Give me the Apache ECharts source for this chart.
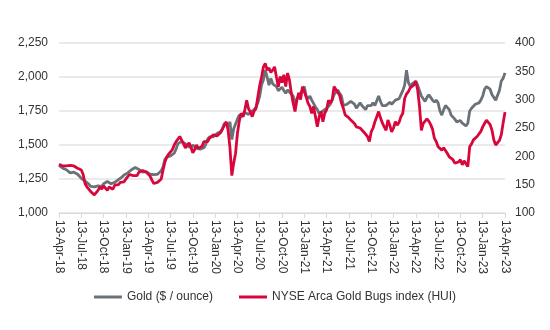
<!DOCTYPE html>
<html>
<head>
<meta charset="utf-8">
<script src="https://cdn.jsdelivr.net/npm/echarts@6/dist/echarts.min.js"></script>
<style>html,body{margin:0;padding:0;background:#fff}#c{width:550px;height:330px}</style>
</head>
<body>
<div id="c"></div>
<script>
// Tick labels for the x axis (every 3 months, 13-Apr-18 .. 13-Apr-23)
const tickLabels = ['13-Apr-18','13-Jul-18','13-Oct-18','13-Jan-19','13-Apr-19','13-Jul-19','13-Oct-19','13-Jan-20','13-Apr-20','13-Jul-20','13-Oct-20','13-Jan-21','13-Apr-21','13-Jul-21','13-Oct-21','13-Jan-22','13-Apr-22','13-Jul-22','13-Oct-22','13-Jan-23','13-Apr-23'];
// Sampling step of the series, in months (roughly weekly)
const stepMonths = 0.25;
// Gold ($ / ounce), left axis
const goldValues = [
1350,1342,1330,1322,1318,
1305,1295,1298,1300, 1296,1285,1270,1255, 1245,1235,1225,1212, 1195,1185,1192,1198,
1200,1188,1195,1215, 1228,1232,1222,1215, 1210,1225,1238,1245, 1250,1265,1280,1290,
1295,1308,1318,1330, 1335,1322,1320,1310, 1300,1310,1305,1295, 1285,1275,1282,1290,
1285,1298,1310,1340, 1395,1410,1400,1420, 1425,1440,1470,1510, 1505,1525,1535,1510,
1495,1495,1480,1500, 1510,1475,1465,1470, 1475,1480,1505,1545, 1560,1570,1560,1570,
1585,1590,1600,1620, 1660,1665,1640,1670, 1540,1620,1610,1690, 1720,1725,1710,1740,
1730,1725,1740,1735, 1760,1780,1810,1860, 1940,1980,2050,2000, 1940,1990,1950,1955,
1930,1900,1910,1925, 1900,1880,1905,1890, 1880,1860,1800,1840, 1860,1880,1890,1930,
1860,1840,1860,1830, 1820,1780,1760,1730, 1740,1750,1745,1770, 1780,1800,1830,1870,
1890,1905,1880,1860, 1790,1780,1800,1810, 1820,1815,1800,1770, 1790,1810,1790,1780,
1760,1790,1800,1790, 1810,1790,1800,1860, 1820,1790,1780,1790, 1800,1815,1800,1810,
1830,1820,1840,1870, 1900,1940,2050,1960, 1930,1950,1940,1970, 1940,1900,1860,1840,
1820,1850,1870,1850, 1830,1815,1830,1810, 1750,1720,1760,1790, 1780,1760,1720,1710,
1690,1670,1665,1680, 1660,1650,1640,1660, 1750,1770,1780,1800, 1790,1810,1830,1860,
1910,1930,1940,1910, 1870,1850,1830,1820, 1900,1970,1990,2030
];
// NYSE Arca Gold Bugs index (HUI), right axis
const huiValues = [
186,184,183,185,183,
182,184,181,183, 182,179,180,176, 168,152,146,142, 138,136,132,135,
140,146,142,148, 144,140,146,144, 142,149,146,150, 154,157,155,160,
164,168,170,166, 168,166,172,170, 175,176,172,170, 165,158,152,150,
154,152,160,176, 190,199,204,206, 212,220,226,228, 235,232,222,215,
218,224,216,206, 212,220,214,215, 218,226,229,226, 232,234,238,241,
236,238,242,243, 255,261,246,215, 166,188,205,240, 262,276,270,282,
299,284,278,270, 280,284,305,325, 340,358,364,352, 356,348,352,358,
340,323,341,330, 344,323,347,335, 312,294,279,299, 312,300,323,326,
305,294,288,276, 288,270,252,270, 279,261,276,282, 299,294,300,323,
318,321,308,294, 285,273,270,268, 264,266,258,252, 255,250,248,243,
240,235,226,243, 250,261,270,279, 268,259,252,246, 264,255,243,250,
261,255,260,270, 276,302,310,314, 321,318,326,332, 317,288,246,258,
261,266,262,256, 248,232,226,217, 215,211,215,212, 205,199,196,194,
188,185,190,194, 185,192,194,182, 217,222,229,232, 235,238,244,252,
258,264,267,256, 246,229,220,217, 228,238,259,278
];

const goldData = goldValues.map((v, i) => [i * stepMonths, v]);
const huiData = huiValues.map((v, i) => [i * stepMonths, v]);

const font = 'Liberation Sans, Arial, sans-serif';
const chart = echarts.init(document.getElementById('c'), null, {renderer: 'canvas'});
chart.setOption({
  animation: false,
  backgroundColor: '#fff',
  grid: {left: 59, right: 45, top: 43, bottom: 117, containLabel: false},
  legend: {
    bottom: 22, left: 'center', icon: 'rect', itemWidth: 28, itemHeight: 3, itemGap: 26,
    textStyle: {fontFamily: font, fontSize: 12, color: '#333'},
    data: ['Gold ($ / ounce)', 'NYSE Arca Gold Bugs index (HUI)']
  },
  xAxis: {
    type: 'value', min: 0, max: 60, interval: 3,
    axisLine: {show: true, lineStyle: {color: '#d9d9d9', width: 1}},
    axisTick: {show: true, length: 5, lineStyle: {color: '#d9d9d9'}},
    splitLine: {show: false},
    axisLabel: {
      rotate: -90, margin: 7, fontFamily: font, fontSize: 12, color: '#333',
      formatter: v => tickLabels[Math.round(v / 3)] || ''
    }
  },
  yAxis: [
    {
      type: 'value', min: 1000, max: 2250, interval: 250, position: 'left',
      axisLine: {show: false}, axisTick: {show: false},
      splitLine: {lineStyle: {color: '#e3e3e3', width: 1.5}},
      axisLabel: {margin: 11, fontFamily: font, fontSize: 12, color: '#333',
        formatter: v => v.toLocaleString('en-US')}
    },
    {
      type: 'value', min: 100, max: 400, interval: 50, position: 'right',
      axisLine: {show: false}, axisTick: {show: false}, splitLine: {show: false},
      axisLabel: {margin: 10, fontFamily: font, fontSize: 12, color: '#333'}
    }
  ],
  series: [
    {
      name: 'Gold ($ / ounce)', type: 'line', yAxisIndex: 0, data: goldData,
      symbol: 'none', color: '#6b7179',
      lineStyle: {width: 2.8, color: '#6b7179'}
    },
    {
      name: 'NYSE Arca Gold Bugs index (HUI)', type: 'line', yAxisIndex: 1, data: huiData,
      symbol: 'none', color: '#d9063c',
      lineStyle: {width: 2.8, color: '#d9063c'}
    }
  ]
});
</script>
</body>
</html>
